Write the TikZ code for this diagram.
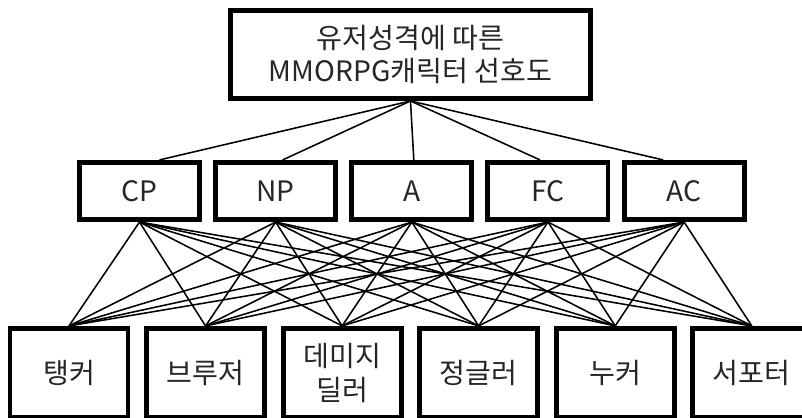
\documentclass[tikz,border=0pt]{standalone}
\usepackage{fontspec}
\newfontfamily\kor{Noto Sans CJK KR}
\usetikzlibrary{calc,positioning}

\tikzset{
  box/.style={draw, line width=3.5pt, fill=white, text=black!85, align=center,
    inner sep=0pt, font=\kor\fontsize{20}{23.5}\selectfont},
  topbox/.style={box, minimum width=9cm, minimum height=2.2cm},
  midbox/.style={box, minimum width=3cm, minimum height=1.43cm},
  botbox/.style={box, minimum width=2.95cm, minimum height=2.23cm},
  link/.style={line width=1.1pt, black}
}

\begin{document}
\begin{tikzpicture}[x=0.025cm, y=-0.025cm]
            \useasboundingbox (0,0) rectangle (802,418);
            \clip (0,0) rectangle (802,418);

            \node[topbox] (top) at (410.5,54.5) {유저성격에 따른\\MMORPG캐릭터 선호도};

            \node[midbox] (cp) at (139.5,191) {CP};
            \node[midbox, right = 0.28cm of cp] (np) {NP};
            \node[midbox, right = 0.28cm of np] (a) {A};
            \node[midbox, right = 0.28cm of a] (fc) {FC};
            \node[midbox, right = 0.28cm of fc] (ac) {AC};

            \node[botbox] (tank) at (69,373) {탱커};
            \node[botbox, right = 0.34cm of tank] (bruiser) {브루저};
            \node[botbox, right = 0.34cm of bruiser] (dealer) {데미지\\딜러};
            \node[botbox, right = 0.34cm of dealer] (jungle) {정글러};
            \node[botbox, right = 0.34cm of jungle] (nuker) {누커};
            \node[botbox, right = 0.34cm of nuker] (support) {서포터};

            \draw[link] (top.south) -- ($(cp.north)+(20,0)$);
            \draw[link] (top.south) -- ($(np.north)+(7,0)$);
            \draw[link] (top.south) -- ($(a.north)+(2,0)$);
            \draw[link] (top.south) -- ($(fc.north)+(-8,0)$);
            \draw[link] (top.south) -- ($(ac.north)+(-21,0)$);

            \draw[link] (cp.south) -- (tank.north);
            \draw[link] (cp.south) -- (bruiser.north);
            \draw[link] (cp.south) -- (dealer.north);
            \draw[link] (cp.south) -- (jungle.north);
            \draw[link] (cp.south) -- (nuker.north);
            \draw[link] (cp.south) -- (support.north);

            \draw[link] (np.south) -- (tank.north);
            \draw[link] (np.south) -- (bruiser.north);
            \draw[link] (np.south) -- (dealer.north);
            \draw[link] (np.south) -- (jungle.north);
            \draw[link] (np.south) -- (nuker.north);
            \draw[link] (np.south) -- (support.north);

            \draw[link] (a.south) -- (tank.north);
            \draw[link] (a.south) -- (bruiser.north);
            \draw[link] (a.south) -- (dealer.north);
            \draw[link] (a.south) -- (jungle.north);
            \draw[link] (a.south) -- (nuker.north);
            \draw[link] (a.south) -- (support.north);

            \draw[link] (fc.south) -- (tank.north);
            \draw[link] (fc.south) -- (bruiser.north);
            \draw[link] (fc.south) -- (dealer.north);
            \draw[link] (fc.south) -- (jungle.north);
            \draw[link] (fc.south) -- (nuker.north);
            \draw[link] (fc.south) -- (support.north);

            \draw[link] (ac.south) -- (tank.north);
            \draw[link] (ac.south) -- (bruiser.north);
            \draw[link] (ac.south) -- (dealer.north);
            \draw[link] (ac.south) -- (jungle.north);
            \draw[link] (ac.south) -- (nuker.north);
            \draw[link] (ac.south) -- (support.north);
        \end{tikzpicture}
\end{document}
